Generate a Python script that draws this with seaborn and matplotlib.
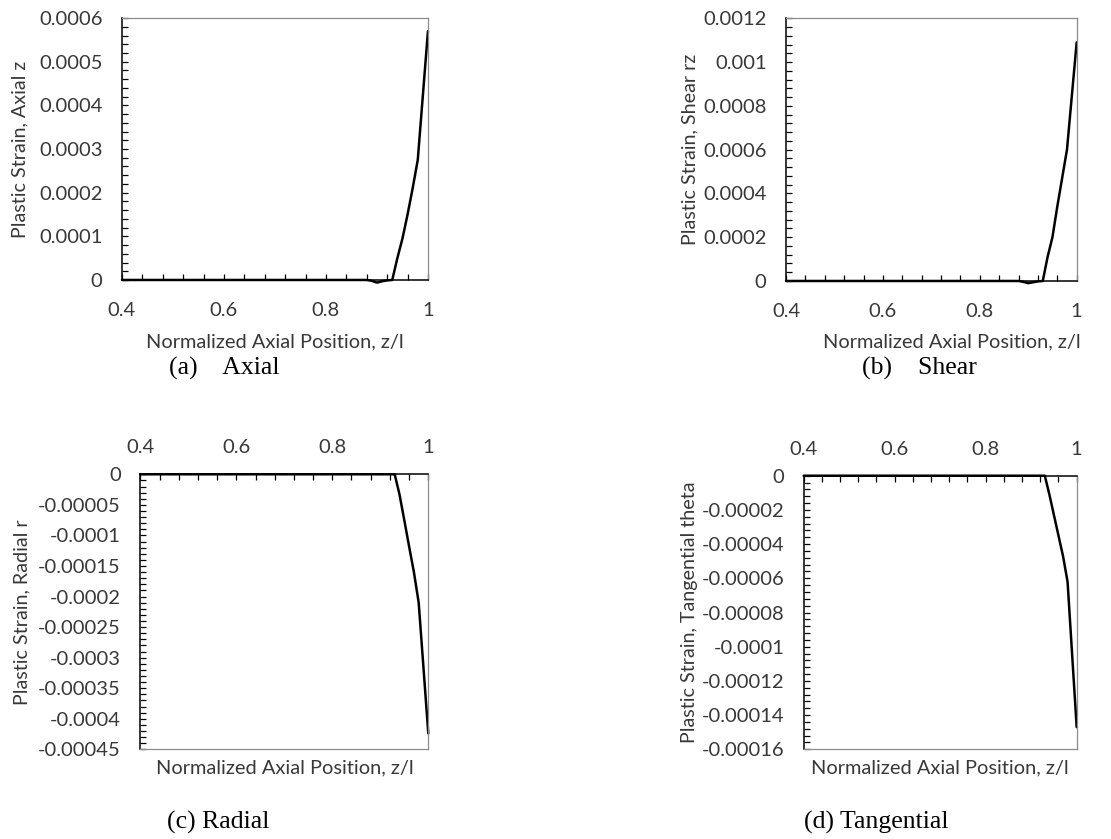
import numpy as np
import pandas as pd
import seaborn as sns
import matplotlib.pyplot as plt
from matplotlib.ticker import MultipleLocator, FuncFormatter

# Normalized axial position z/l (shared by all four strain components)
z_pos = [0.40, 0.50, 0.60, 0.70, 0.80, 0.88, 0.89, 0.90, 0.91, 0.92,
         0.93, 0.94, 0.95, 0.96, 0.97, 0.98, 1.00]

# Plastic strain components along the axis
strain_axial = [0, 0, 0, 0, 0, 0, -0.000002, -0.000006, -0.000003, -0.000001,
                0, 0.00005, 0.000095, 0.00015, 0.00021, 0.000275, 0.00057]
strain_shear = [0, 0, 0, 0, 0, 0, -0.000004, -0.00001, -0.000006, -0.000002,
                0, 0.00011, 0.0002, 0.00034, 0.00047, 0.0006, 0.00109]
strain_radial = [0, 0, 0, 0, 0, 0, 0, 0, 0, 0,
                 0, -0.000033, -0.000075, -0.000118, -0.00016, -0.00021, -0.000424]
strain_tangential = [0, 0, 0, 0, 0, 0, 0, 0, 0, 0,
                     0, -0.000011, -0.000023, -0.000035, -0.000047, -0.000062, -0.000147]

y_labels = ["Plastic Strain, Axial z", "Plastic Strain, Shear rz",
            "Plastic Strain, Radial r", "Plastic Strain, Tangential theta"]
captions = ["(a)    Axial", "(b)    Shear", "(c) Radial", "(d) Tangential"]
x_label = "Normalized Axial Position, z/l"

sns.set_theme(style="ticks")
plt.rcParams['font.family'] = ['Lato', 'DejaVu Sans']

TXT = '#383838'
GRAY = '#8c8c8c'


def excel_fmt(v, pos):
    s = f"{v:.6f}".rstrip('0').rstrip('.')
    if s in ('-0', ''):
        s = '0'
    return s


fig = plt.figure(figsize=(11.11, 8.39), dpi=100)

panels = [
    dict(y=strain_axial, rect=[0.1098, 0.6663, 0.2754, 0.3122], ylim=(0, 0.0006),
         major=0.0001, minor=0.00002, top=False,
         ylab=(0.018, 0.8224), xlab=(0.2475, 0.5930), cap=(0.2021, 0.5610)),
    dict(y=strain_shear, rect=[0.7075, 0.6651, 0.2616, 0.3131], ylim=(0, 0.0012),
         major=0.0002, minor=0.00004, top=False,
         ylab=(0.6211, 0.8224), xlab=(0.8566, 0.5930), cap=(0.8276, 0.5610)),
    dict(y=strain_radial, rect=[0.1263, 0.1069, 0.2592, 0.3278], ylim=(-0.00045, 0),
         major=0.00005, minor=0.00001, top=True,
         ylab=(0.0195, 0.2700), xlab=(0.2561, 0.0846), cap=(0.1962, 0.0203)),
    dict(y=strain_tangential, rect=[0.7234, 0.1069, 0.2457, 0.3261], ylim=(-0.00016, 0),
         major=0.00002, minor=0.000004, top=True,
         ylab=(0.6202, 0.2700), xlab=(0.8461, 0.0846), cap=(0.7889, 0.0203)),
]

for p, ylab, cap in zip(panels, y_labels, captions):
    ax = fig.add_axes(p['rect'])
    df = pd.DataFrame({'z': z_pos, 'strain': p['y']})
    sns.lineplot(data=df, x='z', y='strain', ax=ax, color='black',
                 linewidth=1.8, estimator=None, sort=False, clip_on=False)

    ax.set_xlim(0.4, 1.0)
    ax.set_ylim(*p['ylim'])
    ax.xaxis.set_major_locator(MultipleLocator(0.2))
    ax.xaxis.set_minor_locator(MultipleLocator(0.04))
    ax.yaxis.set_major_locator(MultipleLocator(p['major']))
    ax.yaxis.set_minor_locator(MultipleLocator(p['minor']))
    ax.xaxis.set_major_formatter(FuncFormatter(excel_fmt))
    ax.yaxis.set_major_formatter(FuncFormatter(excel_fmt))

    if p['top']:
        ax.tick_params(axis='x', which='both', top=True, bottom=False,
                       labeltop=True, labelbottom=False)
        axis_spines, frame_spines = ('left', 'top'), ('right', 'bottom')
        xpad = 13
    else:
        ax.tick_params(axis='x', which='both', top=False, bottom=True,
                       labeltop=False, labelbottom=True)
        axis_spines, frame_spines = ('left', 'bottom'), ('right', 'top')
        xpad = 15.5
    ax.tick_params(axis='y', which='both', left=True, right=False)

    for s in axis_spines:
        ax.spines[s].set_visible(True)
        ax.spines[s].set_color('black')
        ax.spines[s].set_linewidth(1.1)
    for s in frame_spines:
        ax.spines[s].set_visible(True)
        ax.spines[s].set_color(GRAY)
        ax.spines[s].set_linewidth(0.9)

    ax.tick_params(axis='both', which='both', direction='in', length=4.5,
                   width=0.9, color='black', labelcolor=TXT, labelsize=14.5)
    ax.tick_params(axis='x', which='both', pad=xpad)
    ax.tick_params(axis='y', which='both', pad=14)
    ax.grid(False)

    ax.set_xlabel(x_label, fontsize=14.4, color=TXT)
    ax.xaxis.set_label_coords(*p['xlab'], transform=fig.transFigure)
    ax.xaxis.label.set_va('center')
    ax.set_ylabel(ylab, fontsize=14.2, color=TXT)
    ax.yaxis.set_label_coords(*p['ylab'], transform=fig.transFigure)
    ax.yaxis.label.set_va('center')

    fig.text(*p['cap'], cap, ha='center', va='center', fontsize=18.5,
             family='Liberation Serif', color='black')

fig.savefig('out.png', dpi=100, facecolor='white')
